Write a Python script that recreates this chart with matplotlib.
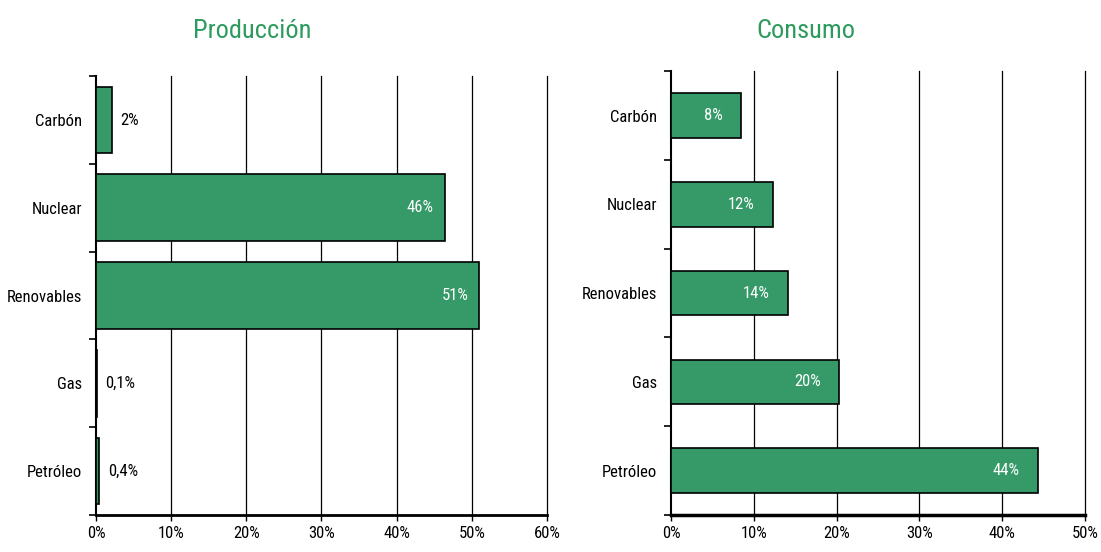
import matplotlib
matplotlib.use("Agg")
import matplotlib.pyplot as plt
from matplotlib import font_manager
import numpy as np

names = {f.name for f in font_manager.fontManager.ttflist}
fam = None
for cand in ['Liberation Sans Narrow', 'DejaVu Sans Condensed', 'Roboto Condensed', 'Open Sans Condensed']:
    if cand in names:
        fam = cand
        break
plt.rcParams['font.family'] = [fam, 'DejaVu Sans'] if fam else ['DejaVu Sans']

categories = ["Carbón", "Nuclear", "Renovables", "Gas", "Petróleo"]
produccion = [2.1, 46.4, 51.0, 0.1, 0.45]
produccion_labels = ["2%", "46%", "51%", "0,1%", "0,4%"]
consumo = [8.4, 12.3, 14.1, 20.3, 44.3]
consumo_labels = ["8%", "12%", "14%", "20%", "44%"]
prod_ticks = [0, 10, 20, 30, 40, 50, 60]
cons_ticks = [0, 10, 20, 30, 40, 50]

GREEN = "#359a68"
TITLE = "#2e9b5e"
FS = 12

fig = plt.figure(figsize=(11.01, 5.52), dpi=100)
ax1 = fig.add_axes([0.0872, 0.067, 0.4096, 0.795])
ax2 = fig.add_axes([0.6094, 0.067, 0.3761, 0.804])


def draw(ax, vals, labels, ticks, height, inside_thresh, pad_in, bottom_lw):
    n = len(categories)
    y = np.arange(n)
    ax.set_axisbelow(True)
    ax.barh(y, vals, height=height, color=GREEN, edgecolor="black", linewidth=1.2, zorder=3)
    ax.set_ylim(n - 0.5, -0.5)
    ax.set_xlim(ticks[0], ticks[-1])
    ax.set_xticks(ticks)
    ax.set_xticklabels([f"{t}%" for t in ticks], fontsize=FS)
    ax.set_yticks(y)
    ax.set_yticklabels(categories, fontsize=FS)
    ax.tick_params(axis='y', length=0, pad=10)
    ax.set_yticks(np.arange(n + 1) - 0.5, minor=True)
    ax.tick_params(axis='y', which='minor', length=5, width=1.2, direction='out')
    ax.tick_params(axis='x', length=4, width=1, direction='out', pad=4)
    for t in ticks[1:]:
        ax.axvline(t, color='black', linewidth=0.9, zorder=1, clip_on=False)
    for s in ['top', 'right']:
        ax.spines[s].set_visible(False)
    ax.spines['left'].set_linewidth(1.5)
    ax.spines['bottom'].set_linewidth(bottom_lw)
    for yi, v, lab in zip(y, vals, labels):
        if v > inside_thresh:
            ax.annotate(lab, (v, yi), xytext=(-pad_in, 0), textcoords='offset points',
                        ha='right', va='center', color='white', fontsize=FS, zorder=4)
        else:
            ax.annotate(lab, (v, yi), xytext=(6, 0), textcoords='offset points',
                        ha='left', va='center', color='black', fontsize=FS, zorder=4)


draw(ax1, produccion, produccion_labels, prod_ticks, 0.76, 5, 8, 2.0)
draw(ax2, consumo, consumo_labels, cons_ticks, 0.5, 5, 13, 2.5)

fig.text(0.229, 0.944, "Producción", ha='center', va='center', color=TITLE, fontsize=19)
fig.text(0.732, 0.944, "Consumo", ha='center', va='center', color=TITLE, fontsize=19)

fig.savefig("out.png", dpi=100)
